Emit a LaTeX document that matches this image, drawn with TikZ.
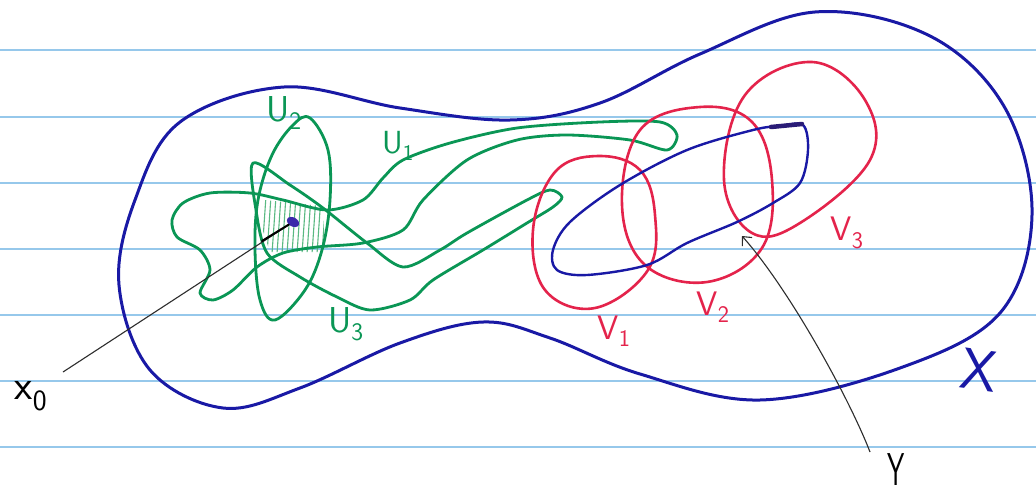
\documentclass[tikz,border=0pt]{standalone}
\usetikzlibrary{arrows.meta,shapes.geometric}
\definecolor{inkblue}{RGB}{25,25,165}
\definecolor{inkpurple}{RGB}{60,40,170}
\definecolor{inkgreen}{RGB}{10,150,85}
\definecolor{hatchgreen}{RGB}{90,185,130}
\definecolor{inkred}{RGB}{228,35,75}
\definecolor{ruled}{RGB}{150,200,235}
\definecolor{pencil}{RGB}{45,45,45}
\begin{document}
\begin{tikzpicture}[x=1pt,y=-1pt,
  outline/.style={draw=inkblue, line width=3pt, line join=round},
  pathloop/.style={draw=inkblue, line width=2.4pt, line join=round},
  gloop/.style={draw=inkgreen, line width=2.8pt, line join=round},
  rloop/.style={draw=inkred, line width=2.6pt, line join=round},
  ruleline/.style={draw=ruled, line width=1.6pt},
  pointer/.style={draw=pencil, line width=1.1pt},
  glab/.style={text=inkgreen, font=\sffamily\fontsize{36}{36}\selectfont, inner sep=0pt},
  rlab/.style={text=inkred, font=\sffamily\fontsize{34}{34}\selectfont, inner sep=0pt},
  blab/.style={text=inkblue, font=\sffamily\fontsize{58}{58}\selectfont, inner sep=0pt},
  klab/.style={text=black, font=\sffamily\fontsize{46}{46}\selectfont, inner sep=0pt}
]
\useasboundingbox (0,0) rectangle (1036,493);
\fill[white] (0,0) rectangle (1036,493);
% ruled paper
\foreach \yy in {50,117,183,249,315,381,447}
  \draw[ruleline] (0,\yy) -- (1036,\yy);

% space X
\draw[outline] plot[smooth cycle, tension=0.6] coordinates {
  (119,285) (135,200) (180,122) (284,87) (400,108) (510,120) (600,103)
  (700,54) (815,12) (930,36) (1005,108) (1032,215) (1000,313) (900,368)
  (760,400) (640,374) (550,338) (483,322) (400,343) (300,388) (223,408)
  (150,370)};

% hatching in the intersection
\begin{scope}
  \clip (265,200) -- (322,206) -- (326,240) -- (318,252) -- (270,252) -- (262,228) -- cycle;
  \foreach \xx in {262,267,...,330}
    \draw[hatchgreen, line width=1.1pt] (\xx+4,196) -- (\xx,254);
\end{scope}

% green neighbourhoods
% U2
\draw[gloop] plot[smooth cycle, tension=0.6] coordinates {
  (310,118) (328,150) (330,200) (322,250) (305,290) (275,320) (260,300)
  (255,250) (258,200) (272,155) (293,125)};
% U1
\draw[gloop] plot[smooth cycle, tension=0.5] coordinates {
  (677,135) (660,122) (600,122) (517,128) (450,143) (403,160) (383,178)
  (363,200) (327,210) (283,200) (250,193) (210,193) (183,203) (172,220)
  (177,237) (200,250) (210,270) (200,293) (213,300) (233,290) (257,267)
  (283,253) (317,247) (363,243) (403,230) (423,200) (467,160) (517,140)
  (567,135) (630,140) (667,150)};
% U3
\draw[gloop] plot[smooth cycle, tension=0.5] coordinates {
  (253,163) (290,185) (323,208) (367,243) (403,267) (440,250) (467,233)
  (527,200) (550,190) (562,197) (553,207) (527,223) (483,250) (433,280)
  (410,300) (370,310) (337,297) (300,277) (267,253) (256,210)};

% red neighbourhoods
% V1
\draw[rloop] plot[smooth cycle, tension=0.65] coordinates {
  (598,156) (640,170) (655,215) (648,270) (595,308) (545,290) (533,230) (555,172)};
% V2
\draw[rloop] plot[smooth cycle, tension=0.65] coordinates {
  (700,107) (752,122) (772,180) (762,248) (707,282) (645,265) (622,205) (640,130)};
% V3
\draw[rloop] plot[smooth cycle, tension=0.65] coordinates {
  (812,62) (865,100) (870,160) (800,223) (752,233) (724,180) (745,95)};

% path through the V's
\draw[pathloop] plot[smooth cycle, tension=0.55] coordinates {
  (803,125) (808,150) (800,183) (773,203) (737,222) (687,243) (647,265)
  (587,275) (557,270) (553,250) (570,222) (620,185) (687,150) (753,130)
  (780,126)};
\draw[draw=inkpurple!70!black, line width=4.5pt, line cap=round] (771,127) -- (802,124);

% base point x0
\node[ellipse, fill=inkpurple, minimum width=13pt, minimum height=9pt, inner sep=0pt, rotate=-30] (x0pt) at (293,222) {};
\coordinate (x0tail) at (63,372);
\coordinate (x0near) at (262,241);
\draw[pointer] (x0tail) -- (x0pt);
\draw[draw=black, line width=2pt, line cap=round] (x0near) -- (x0pt);
\node[klab, font=\sffamily\fontsize{42}{42}\selectfont] (x0lab) at (31,396) {x\textsubscript{0}};

% point y
\coordinate (ytail) at (870,452);
\coordinate (ypt) at (742,236);
\draw[pointer, -{Straight Barb[length=7pt, width=13pt]}] (ytail) .. controls (850,400) and (790,290) .. (ypt);
\node[klab, xscale=0.6] (ylab) at (896,470) {Y};

% labels
\node[glab] (u2lab) at (284,113) {U\textsubscript{2}};
\node[glab, font=\sffamily\fontsize{32}{32}\selectfont] (u1lab) at (398,146) {U\textsubscript{1}};
\node[glab] (u3lab) at (346,324) {U\textsubscript{3}};
\node[rlab] (v1lab) at (614,331) {V\textsubscript{1}};
\node[rlab] (v2lab) at (713,307) {V\textsubscript{2}};
\node[rlab] (v3lab) at (847,233) {V\textsubscript{3}};
\node[blab, rotate=-8] (xlab) at (979,370) {X};
\end{tikzpicture}
\end{document}
